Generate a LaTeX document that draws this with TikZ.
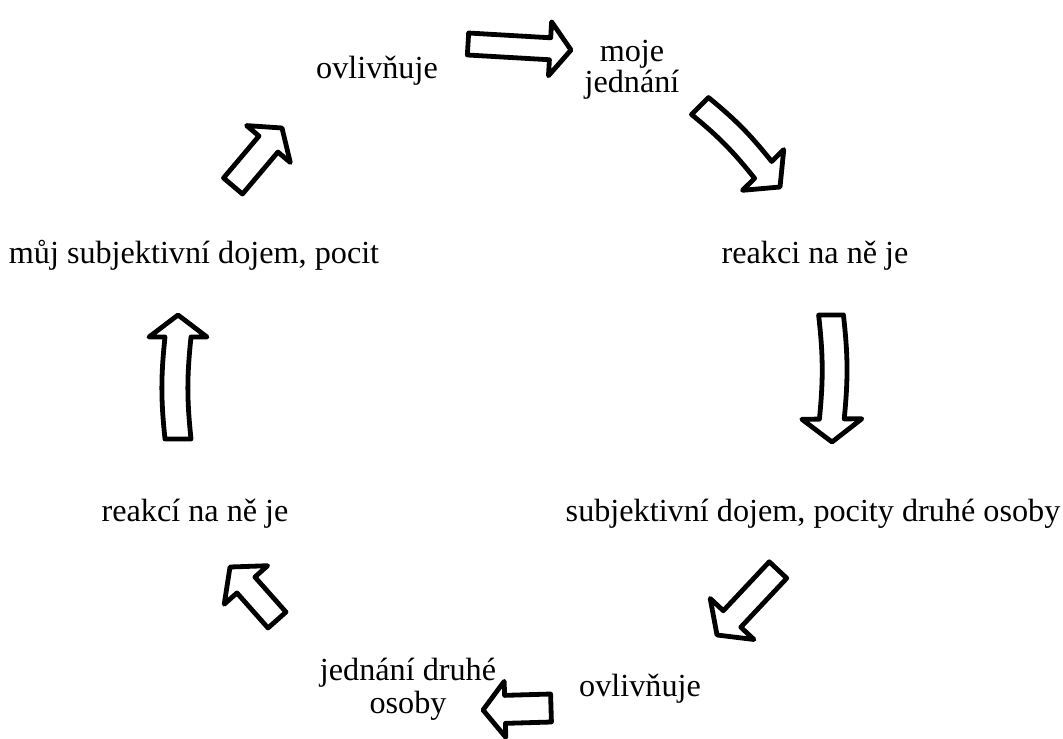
\documentclass[tikz,border=0pt]{standalone}
\usepackage{fontspec}
\setmainfont{Liberation Serif}
\usetikzlibrary{calc}
\tikzset{
  lbl/.style={font=\fontsize{16.1}{15.2}\selectfont, align=center, inner sep=0pt, anchor=base},
  lblwide/.style={lbl, font=\fontsize{16.1}{16.5}\selectfont},
  barrow/.style={draw=black, line width=2.4pt, line join=round, fill=white},
}
% #1 tail, #2 tip, #3 shaft half width, #4 head half width, #5 head length, #6 bend
\newcommand{\blockarrow}[6]{%
  \path ($(#2)!#5!(#1)$) coordinate (#1h);
  \draw[barrow] ($(#1)!#3!90:(#2)$) to[bend left=#6] ($(#1h)!#3!90:(#2)$)
     -- ($(#1h)!#4!90:(#2)$) -- (#2) -- ($(#1h)!#4!-90:(#2)$)
     -- ($(#1h)!#3!-90:(#2)$) to[bend right=#6] ($(#1)!#3!-90:(#2)$) -- cycle;
}
\begin{document}
\begin{tikzpicture}[x=0.5pt,y=-0.5pt]
\useasboundingbox (0,0) rectangle (1063,738);
% texts (base anchor = baseline of last line)
\node[lbl] (t1) at (377,78) {ovlivňuje};
\node[lbl] (t2) at (632,92) {moje\\jednání};
\node[lbl] (t3) at (815,263) {reakci na ně je};
\node[lbl] (t4) at (813,521) {subjektivní dojem, pocity druhé osoby};
\node[lbl] (t5) at (640,696) {ovlivňuje};
\node[lblwide] (t6) at (408,713) {jednání druhé\\osoby};
\node[lbl] (t7) at (195,521) {reakcí na ně je};
\node[lbl] (t8) at (194,263) {můj subjektivní dojem, pocit};
% arrow end points
\coordinate (a1t) at (468,44);  \coordinate (a1p) at (571,50);
\coordinate (a2t) at (700,106); \coordinate (a2p) at (780,187);
\coordinate (a3t) at (831,315); \coordinate (a3p) at (832,442);
\coordinate (a4t) at (778,570); \coordinate (a4p) at (717,635);
\coordinate (a5t) at (551,708); \coordinate (a5p) at (483,710);
\coordinate (a6t) at (277,620); \coordinate (a6p) at (230,567);
\coordinate (a7t) at (178,439); \coordinate (a7p) at (178,315);
\coordinate (a8t) at (233,186); \coordinate (a8p) at (282,128);
% arrows
\blockarrow{a1t}{a1p}{5.5pt}{13.5pt}{10.5pt}{0}
\blockarrow{a2t}{a2p}{6pt}{14.5pt}{12pt}{6}
\blockarrow{a3t}{a3p}{6.2pt}{15pt}{11.5pt}{6}
\blockarrow{a4t}{a4p}{6pt}{15pt}{11pt}{0}
\blockarrow{a5t}{a5p}{7pt}{14pt}{11pt}{0}
\blockarrow{a6t}{a6p}{6pt}{14.5pt}{12pt}{0}
\blockarrow{a7t}{a7p}{6.5pt}{14.5pt}{11pt}{6}
\blockarrow{a8t}{a8p}{6.2pt}{14.3pt}{10.5pt}{0}
\end{tikzpicture}
\end{document}
